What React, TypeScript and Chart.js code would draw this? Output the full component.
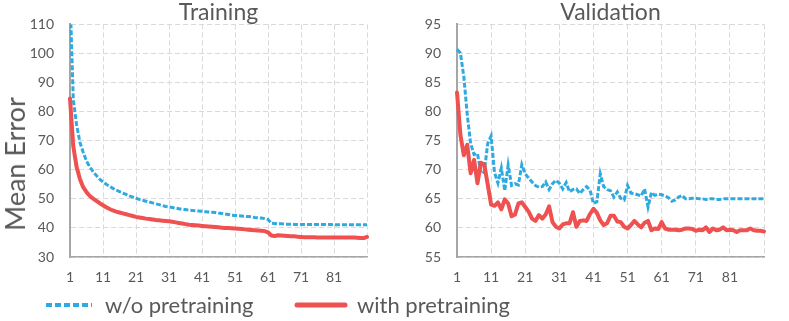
import React, { useEffect, useRef } from "react";
import { Chart, registerables } from "chart.js";

Chart.register(...registerables);

// ---- data ----
const epochs: string[] = Array.from({ length: 91 }, (_, i) => String(i + 1));

const trainWithout: number[] = [
  120, 84, 75.5, 69.5, 66, 63, 61, 59.4, 58, 56.8,
  55.8, 55, 54.3, 53.6, 53, 52.5, 52, 51.5, 51, 50.6,
  50.2, 49.8, 49.5, 49.2, 48.9, 48.6, 48.3, 48, 47.7, 47.4,
  47.2, 47, 46.8, 46.6, 46.4, 46.3, 46.1, 46, 45.9, 45.8,
  45.7, 45.6, 45.5, 45.4, 45.3, 45.1, 45, 44.8, 44.6, 44.4,
  44.3, 44.2, 44.1, 44, 43.9, 43.8, 43.6, 43.5, 43.4, 43.2,
  42.9, 41.6, 41.5, 41.4, 41.4, 41.3, 41.3, 41.3, 41.2, 41.2,
  41.2, 41.2, 41.2, 41.2, 41.2, 41.2, 41.2, 41.2, 41.2, 41.2,
  41.1, 41.1, 41.1, 41.1, 41.1, 41.1, 41.1, 41.1, 41.1, 41.1,
  41.1,
];

const trainWith: number[] = [
  84.5, 68, 61, 56.8, 54, 52.3, 51, 50.1, 49.3, 48.5,
  47.8, 47.1, 46.5, 46, 45.6, 45.3, 45, 44.7, 44.4, 44.1,
  43.8, 43.6, 43.4, 43.2, 43.1, 42.9, 42.7, 42.6, 42.5, 42.4,
  42.3, 42.1, 41.9, 41.7, 41.5, 41.3, 41.1, 41, 40.9, 40.8,
  40.7, 40.6, 40.5, 40.4, 40.3, 40.2, 40.1, 40, 40, 39.9,
  39.8, 39.7, 39.6, 39.5, 39.4, 39.3, 39.2, 39.1, 39, 38.9,
  38.5, 37.4, 37.2, 37.5, 37.4, 37.3, 37.2, 37.1, 37.1, 37,
  36.9, 36.8, 36.8, 36.8, 36.8, 36.7, 36.7, 36.7, 36.7, 36.7,
  36.7, 36.7, 36.7, 36.7, 36.7, 36.7, 36.7, 36.6, 36.5, 36.5,
  36.9,
];

const valWithout: number[] = [
  90.7, 90.1, 86, 79.5, 74.5, 72.6, 72.8, 69.4, 69.6, 74.5,
  75.8, 69.5, 67.7, 70.3, 66.4, 70.8, 67.3, 67.6, 67.4, 70.9,
  69.3, 68.6, 67.9, 67.3, 67, 67.1, 67.9, 66.6, 67.6, 68.2,
  67.7, 66.7, 67.8, 66.2, 66.6, 66.7, 65.9, 66.6, 67.1, 66.5,
  64.2, 64.5, 69.3, 67.1, 66.6, 66.4, 65.3, 66.2, 65.1, 64.8,
  67.3, 66, 65.9, 65.7, 65.5, 66.7, 63.6, 66.1, 65.6, 65.8,
  65.7, 65.5, 65.2, 64.6, 64.8, 65.3, 65.6, 65, 65, 65.1,
  65.1, 65, 65, 64.9, 65, 65, 64.9, 64.9, 65, 65,
  65, 65, 65, 65, 65, 65, 65, 65, 65, 65,
  65,
];

const valWith: number[] = [
  83.3, 76, 72.5, 74.3, 69.4, 71.7, 67.7, 71.2, 70.9, 67.5,
  64, 63.8, 64.4, 63.2, 64.9, 64.2, 62, 62.3, 64.2, 64.4,
  63.6, 62.8, 61.6, 61.2, 62.2, 61.6, 62.3, 63.7, 61, 60.2,
  59.9, 60.6, 60.8, 60.8, 62.7, 60.2, 61.2, 61.3, 61.2, 62.4,
  63.3, 62.6, 61.3, 60.5, 60.8, 62.1, 62.1, 61.1, 61, 60.2,
  59.9, 60.5, 61.2, 60.6, 60.1, 60.9, 61.2, 59.6, 59.9, 59.8,
  61, 59.9, 59.7, 59.7, 59.7, 59.6, 59.7, 59.9, 59.9, 59.8,
  59.5, 59.7, 59.6, 60.1, 59.3, 59.9, 59.6, 59.7, 60.1, 59.6,
  59.7, 59.6, 59.3, 59.6, 59.6, 59.6, 59.9, 59.6, 59.5, 59.5,
  59.4,
];

const seriesNames = ["w/o pretraining", "with pretraining"];
const panelTitles = ["Training", "Validation"];
const yAxisTitle = "Mean Error";

// ---- style ----
const BLUE = "#2eaae1";
const RED = "#ef5050";
const TEXT = "#595959";
const GRID = "#d9d9d9";
const AXIS = "#a6a6a6";
const FONT = 'Lato, "Open Sans", sans-serif';

function makeConfig(
  title: string,
  blue: number[],
  red: number[],
  yMin: number,
  yMax: number,
  yStep: number,
  axisWidth: number,
  padRight: number
): any {
  return {
    type: "line",
    data: {
      labels: epochs,
      datasets: [
        {
          label: seriesNames[0],
          data: blue,
          borderColor: BLUE,
          backgroundColor: BLUE,
          borderWidth: 3,
          borderDash: [5, 2],
          pointRadius: 0,
          fill: false,
          tension: 0,
          order: 1,
        },
        {
          label: seriesNames[1],
          data: red,
          borderColor: RED,
          backgroundColor: RED,
          borderWidth: 4,
          borderJoinStyle: "round",
          borderCapStyle: "round",
          pointRadius: 0,
          fill: false,
          tension: 0,
          order: 0,
        },
      ],
    },
    options: {
      animation: false,
      responsive: false,
      maintainAspectRatio: false,
      events: [],
      layout: { padding: { left: 0, right: padRight, top: 0, bottom: 0 } },
      plugins: {
        legend: { display: false },
        tooltip: { enabled: false },
        title: {
          display: true,
          text: title,
          color: TEXT,
          fullSize: false,
          font: { family: FONT, size: 23, weight: "normal", lineHeight: 1.0 },
          padding: 0,
        },
      },
      scales: {
        x: {
          type: "category",
          grid: { color: GRID, lineWidth: 1, drawTicks: false },
          border: { display: true, color: AXIS, width: 1.5, dash: [5, 3] },
          ticks: {
            autoSkip: false,
            maxRotation: 0,
            minRotation: 0,
            padding: 12,
            color: TEXT,
            font: { family: FONT, size: 14 },
            callback: (_v: any, idx: number) =>
              idx % 10 === 0 ? (idx === 90 ? "" : epochs[idx]) : null,
          },
          afterFit: (s: any) => {
            s.height = 35;
          },
        },
        y: {
          min: yMin,
          max: yMax,
          grid: { color: GRID, lineWidth: 1, drawTicks: false },
          border: { display: true, color: AXIS, width: 2, dash: [5, 3] },
          ticks: {
            stepSize: yStep,
            padding: 16,
            color: TEXT,
            font: { family: FONT, size: 14 },
          },
          afterFit: (s: any) => {
            s.width = axisWidth;
          },
        },
      },
    },
  };
}

export default function App() {
  const leftRef = useRef<HTMLCanvasElement | null>(null);
  const rightRef = useRef<HTMLCanvasElement | null>(null);

  useEffect(() => {
    const c1 = new Chart(
      leftRef.current as HTMLCanvasElement,
      makeConfig(panelTitles[0], trainWithout, trainWith, 30, 110, 10, 70, 28)
    );
    const c2 = new Chart(
      rightRef.current as HTMLCanvasElement,
      makeConfig(panelTitles[1], valWithout, valWith, 55, 95, 5, 62, 25)
    );
    return () => {
      c1.destroy();
      c2.destroy();
    };
  }, []);

  const textStyle: React.CSSProperties = {
    fontFamily: FONT,
    fontSize: 22,
    color: TEXT,
    whiteSpace: "nowrap",
    lineHeight: "24px",
    position: "absolute",
  };

  return (
    <div
      style={{
        position: "absolute",
        left: 0,
        top: 0,
        width: 789,
        height: 321,
        background: "#ffffff",
        overflow: "hidden",
      }}
    >
      <canvas
        ref={leftRef}
        width={395}
        height={292}
        style={{ position: "absolute", left: 0, top: 0, width: 395, height: 292 }}
      />
      <canvas
        ref={rightRef}
        width={394}
        height={292}
        style={{ position: "absolute", left: 395, top: 0, width: 394, height: 292 }}
      />
      <div
        style={{
          ...textStyle,
          fontSize: 27,
          lineHeight: "28px",
          left: 15,
          top: 164,
          transform: "translate(-50%, -50%) rotate(-90deg)",
        }}
      >
        {yAxisTitle}
      </div>
      <svg
        width={789}
        height={30}
        style={{ position: "absolute", left: 0, top: 290 }}
      >
        <line x1={46} y1={15} x2={92} y2={15} stroke={BLUE} strokeWidth={4} strokeDasharray="6 3" />
        <line x1={297} y1={15} x2={345} y2={15} stroke={RED} strokeWidth={5} strokeLinecap="round" />
      </svg>
      <div style={{ ...textStyle, left: 105, top: 293 }}>{seriesNames[0]}</div>
      <div style={{ ...textStyle, left: 357, top: 293 }}>{seriesNames[1]}</div>
    </div>
  );
}
